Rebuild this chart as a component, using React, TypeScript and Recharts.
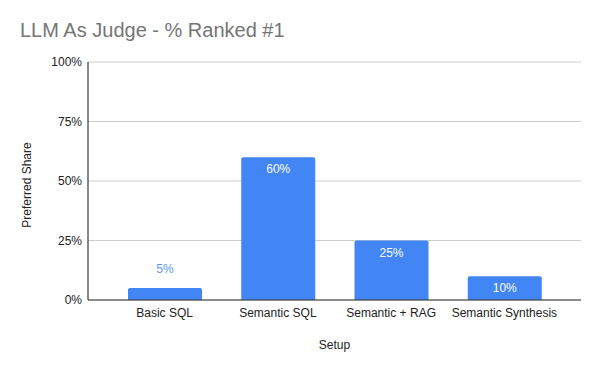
import { BarChart, Bar, XAxis, YAxis, CartesianGrid, LabelList } from 'recharts';

const SETUPS = ['Basic SQL', 'Semantic SQL', 'Semantic + RAG', 'Semantic Synthesis'];
const SHARE = [5, 60, 25, 10];
const Y_TICKS = [0, 25, 50, 75, 100];

const DATA = SETUPS.map((setup, i) => ({ setup, share: SHARE[i] }));

const BLUE = '#4285f4';
const FONT = '"Liberation Sans", Arial, sans-serif';

// small bars get their label above, taller ones inside near the top
function ValueLabel(props: any) {
  const { x, y, width, height, value } = props;
  const cx = x + width / 2;
  if (height < 20) {
    return (
      <text x={cx} y={y - 19} dy="0.35em" textAnchor="middle" fill="#5e97f6" fontSize={12} fontFamily={FONT}>
        {value}%
      </text>
    );
  }
  return (
    <text x={cx} y={y + 12} dy="0.35em" textAnchor="middle" fill="#ffffff" fontSize={12} fontFamily={FONT}>
      {value}%
    </text>
  );
}

export default function App() {
  document.body.style.margin = '0';
  return (
    <div style={{ position: 'relative', width: 600, height: 371, background: '#fff', fontFamily: FONT }}>
      <div style={{ position: 'absolute', left: 20, top: 20, fontSize: 20, lineHeight: '20px', color: '#757575' }}>
        LLM As Judge - % Ranked #1
      </div>
      <BarChart width={600} height={371} data={DATA} margin={{ top: 62, right: 19, left: 0, bottom: 10 }} barSize={74}>
        <CartesianGrid vertical={false} stroke="#cccccc" />
        <XAxis
          dataKey="setup"
          padding={{ left: 20, right: 20 }}
          height={61}
          tickLine={false}
          stroke="#333333"
          tick={{ fill: '#222222', fontSize: 12, fontFamily: FONT }}
          label={{ value: 'Setup', position: 'insideBottom', offset: 12, fill: '#222222', fontSize: 12, fontFamily: FONT }}
        />
        <YAxis
          width={88}
          domain={[0, 100]}
          ticks={Y_TICKS}
          tickFormatter={(v: number) => `${v}%`}
          tickLine={false}
          tickSize={4}
          tickMargin={2}
          stroke="#111111"
          tick={{ fill: '#222222', fontSize: 12, fontFamily: FONT }}
          label={{ value: 'Preferred Share', angle: -90, position: 'insideLeft', offset: 27, dy: 4, fill: '#222222', fontSize: 12, fontFamily: FONT, style: { textAnchor: 'middle' } }}
        />
        <Bar dataKey="share" fill={BLUE} radius={[2, 2, 0, 0]} isAnimationActive={false}>
          <LabelList dataKey="share" content={ValueLabel} />
        </Bar>
      </BarChart>
    </div>
  );
}
